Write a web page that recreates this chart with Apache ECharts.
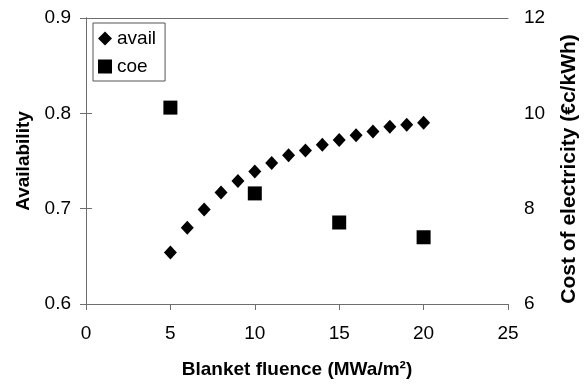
<!DOCTYPE html>
<html>
<head>
<meta charset="utf-8">
<script src="https://cdn.jsdelivr.net/npm/echarts@6/dist/echarts.min.js"></script>
<style>
  html, body {margin: 0; padding: 0; background: #fff;}
  #main {width: 588px; height: 384px;}
</style>
</head>
<body>
<div id="main"></div>
<script>
const availX = [5, 6, 7, 8, 9, 10, 11, 12, 13, 14, 15, 16, 17, 18, 19, 20];
const availY = [0.654, 0.680, 0.699, 0.717, 0.729, 0.739, 0.748, 0.756, 0.761, 0.767, 0.772, 0.777, 0.781, 0.786, 0.788, 0.790];
const coeX = [5, 10, 15, 20];
const coeY = [10.12, 8.32, 7.71, 7.40];

const font = 'Liberation Sans, Arial, sans-serif';
const axisColor = '#6e6e6e';

const chart = echarts.init(document.getElementById('main'));
chart.setOption({
  animation: false,
  textStyle: {fontFamily: font},
  grid: {left: 86, right: 77, top: 18, bottom: 79},
  legend: {
    orient: 'vertical',
    left: 93,
    top: 23,
    padding: [6, 9, 5, 5],
    itemGap: 9,
    itemWidth: 14,
    itemHeight: 14,
    borderColor: '#555',
    borderWidth: 1,
    borderRadius: 0,
    backgroundColor: '#fff',
    textStyle: {fontSize: 19, color: '#000', fontFamily: font},
    data: [{name: 'avail', icon: 'diamond'}, {name: 'coe', icon: 'rect'}]
  },
  xAxis: [{
    type: 'value',
    min: 0, max: 25, interval: 5,
    name: 'Blanket fluence (MWa/m²)',
    nameLocation: 'middle',
    nameGap: 56,
    nameTextStyle: {fontSize: 19, fontWeight: 'bold', color: '#000'},
    axisLine: {show: true, lineStyle: {color: axisColor}},
    axisTick: {show: true, length: 6, lineStyle: {color: axisColor}},
    axisLabel: {fontSize: 19, color: '#000', margin: 20},
    splitLine: {show: false}
  }, {
    type: 'value',
    position: 'top',
    min: 0, max: 25,
    axisLine: {show: true, lineStyle: {color: axisColor}},
    axisTick: {show: false},
    axisLabel: {show: false},
    splitLine: {show: false}
  }],
  yAxis: [{
    type: 'value',
    min: 0.6, max: 0.9, interval: 0.1,
    name: 'Availability',
    nameLocation: 'middle',
    nameGap: 53,
    nameTextStyle: {fontSize: 19, fontWeight: 'bold', color: '#000'},
    axisLine: {show: true, lineStyle: {color: axisColor}},
    axisTick: {show: true, length: 6, lineStyle: {color: axisColor}},
    axisLabel: {fontSize: 19, color: '#000', margin: 15, formatter: v => v.toFixed(1)},
    splitLine: {show: false}
  }, {
    type: 'value',
    position: 'right',
    min: 6, max: 12, interval: 2,
    name: 'Cost of electricity (€c/kWh)',
    nameLocation: 'middle',
    nameGap: 51,
    nameTextStyle: {fontSize: 21, fontWeight: 'bold', color: '#000', padding: [0, 16, 0, 0]},
    axisLine: {show: true, lineStyle: {color: axisColor}},
    axisTick: {show: true, length: 6, lineStyle: {color: axisColor}},
    axisLabel: {fontSize: 19, color: '#000', margin: 16},
    splitLine: {show: false}
  }],
  series: [{
    name: 'avail',
    type: 'scatter',
    symbol: 'diamond',
    symbolSize: [13, 14],
    itemStyle: {color: '#000', opacity: 1},
    xAxisIndex: 0, yAxisIndex: 0,
    data: availX.map((x, i) => [x, availY[i]])
  }, {
    name: 'coe',
    type: 'scatter',
    symbol: 'rect',
    symbolSize: 14,
    itemStyle: {color: '#000', opacity: 1},
    xAxisIndex: 0, yAxisIndex: 1,
    data: coeX.map((x, i) => [x, coeY[i]])
  }]
});
</script>
</body>
</html>
